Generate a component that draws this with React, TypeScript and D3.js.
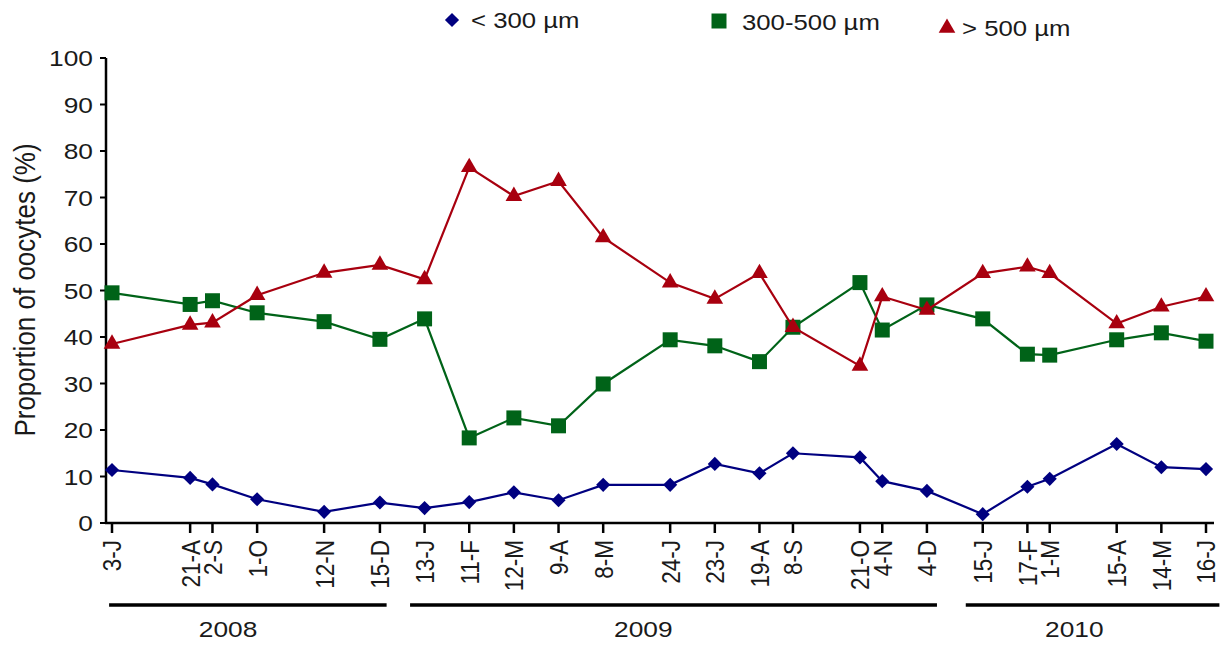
import React from 'react';
import * as d3 from 'd3';

// ==================== DATA ====================
// sampling dates (day-month initial) as printed on the axis
const dates = ['3-J', '21-A', '2-S', '1-O', '12-N', '15-D', '13-J', '11-F', '12-M', '9-A', '8-M', '24-J',
    '23-J', '19-A', '8-S', '21-O', '4-N', '4-D', '15-J', '17-F', '1-M', '15-A', '14-M', '16-J'];
// position of each sampling along the axis, in half-month steps
const datePos = [0, 3.5, 4.5, 6.5, 9.5, 12, 14, 16, 18, 20, 22, 25, 27, 29, 30.5, 33.5, 34.5, 36.5, 39, 41, 42, 45, 47, 49];

const small = [11.4, 9.7, 8.3, 5.1, 2.4, 4.4, 3.2, 4.5, 6.6, 4.9, 8.2, 8.2, 12.7, 10.7, 15.0, 14.1, 9.0, 6.9, 1.9, 7.8, 9.5, 17.0, 12.0, 11.6];
const medium = [49.5, 47.0, 47.8, 45.2, 43.3, 39.5, 43.9, 18.3, 22.6, 20.9, 29.9, 39.4, 38.1, 34.7, 42.1, 51.7, 41.5, 46.9, 43.9, 36.3, 36.1, 39.4, 40.9, 39.1];
const large = [38.5, 42.6, 43.1, 49.0, 53.8, 55.5, 52.4, 76.5, 70.3, 73.5, 61.4, 51.7, 48.2, 53.7, 42.1, 33.8, 48.7, 45.8, 53.7, 55.1, 53.7, 42.9, 46.5, 48.7];

const years = ['2008', '2009', '2010'];
const yearStart = [-0.13, 13.35, 38.24];
const yearEnd = [12.3, 36.95, 49.6];
const yearLabelAt = [5.2, 23.8, 43.1];

const yTicks = [0, 10, 20, 30, 40, 50, 60, 70, 80, 90, 100];

const SERIES = [
    { name: '< 300 µm', values: small, color: '#000080', symbol: 'diamond' },
    { name: '300-500 µm', values: medium, color: '#006318', symbol: 'square' },
    { name: '> 500 µm', values: large, color: '#A8000F', symbol: 'triangle' }
];

// ==================== LAYOUT ====================
const W = 1224, H = 645;
const FONT = "'Liberation Sans', Arial, sans-serif";
const TXT = '#1a1a1a';
const SX = 1.17; // the original lettering is set wider than Arial

const x = d3.scaleLinear().domain([0, 49]).range([112, 1206]);
const y = d3.scaleLinear().domain([0, 100]).range([523, 58]);

const symbolPath = (kind: string) => {
    if (kind === 'square') return d3.symbol(d3.symbolSquare, 225)() as string;
    if (kind === 'triangle') return d3.symbol(d3.symbolTriangle, 120)() as string;
    return d3.symbol(d3.symbolSquare, 100)() as string; // rotated 45deg below
};

const Marker = ({ kind, color, cx, cy }: { kind: string; color: string; cx: number; cy: number }) => (
    <path
        d={symbolPath(kind)}
        fill={color}
        transform={`translate(${cx},${cy})${kind === 'diamond' ? ' rotate(45)' : ''}`}
    />
);

// legend positions (marker centre, text start)
const legendItems = [
    { mx: 452, my: 20, tx: 471, ty: 28 },
    { mx: 719, my: 21, tx: 742, ty: 30 },
    { mx: 947, my: 28, tx: 962, ty: 36 }
];

export default function App() {
    const line = d3.line<number>()
        .x((_, i) => x(datePos[i]))
        .y(d => y(d));

    return (
        <div style={{ position: 'absolute', left: 0, top: 0, background: '#fff' }}>
            <svg width={W} height={H} viewBox={`0 0 ${W} ${H}`} style={{ display: 'block', fontFamily: FONT }}>
                <rect width={W} height={H} fill="#fff" />

                {/* y axis */}
                <line x1={106} x2={106} y1={y(100)} y2={y(0) + 1} stroke="#000" strokeWidth={2.5} />
                {yTicks.map(t => (
                    <g key={t}>
                        <line x1={100} x2={106} y1={y(t)} y2={y(t)} stroke="#000" strokeWidth={2} />
                        <text transform={`translate(93,${y(t)}) scale(${SX},1)`} dy="0.36em" textAnchor="end" fontSize={22.5} fill={TXT}>{t}</text>
                    </g>
                ))}
                <text
                    transform={`translate(35,290) scale(${SX},1) rotate(-90)`}
                    textAnchor="middle"
                    fontSize={26}
                    fill={TXT}
                >Proportion of oocytes (%)</text>

                {/* x axis */}
                <line x1={105} x2={1214} y1={y(0)} y2={y(0)} stroke="#000" strokeWidth={2.5} />
                {dates.map((d, i) => (
                    <g key={i} transform={`translate(${x(datePos[i])},0)`}>
                        <line y1={y(0)} y2={y(0) + 10} stroke="#000" strokeWidth={2.5} />
                        <text
                            transform={`translate(0,${y(0) + 17}) scale(${SX},1) rotate(-90)`}
                            dy="0.36em"
                            textAnchor="end"
                            fontSize={22.5}
                            fill={TXT}
                        >{d}</text>
                    </g>
                ))}

                {/* year bars */}
                {years.map((yr, i) => (
                    <g key={yr}>
                        <line x1={x(yearStart[i])} x2={x(yearEnd[i])} y1={605} y2={605} stroke="#000" strokeWidth={3.5} />
                        <text transform={`translate(${x(yearLabelAt[i])},637) scale(${SX},1)`} textAnchor="middle" fontSize={22.5} fill={TXT}>{yr}</text>
                    </g>
                ))}

                {/* series */}
                {SERIES.map(s => (
                    <g key={s.name}>
                        <path d={line(s.values) as string} fill="none" stroke={s.color} strokeWidth={2.2} />
                        {s.values.map((v, i) => (
                            <Marker key={i} kind={s.symbol} color={s.color} cx={x(datePos[i])} cy={y(v)} />
                        ))}
                    </g>
                ))}

                {/* legend */}
                {SERIES.map((s, i) => (
                    <g key={s.name}>
                        <Marker kind={s.symbol} color={s.color} cx={legendItems[i].mx} cy={legendItems[i].my} />
                        <text transform={`translate(${legendItems[i].tx},${legendItems[i].ty}) scale(${SX},1)`} fontSize={22} fill={TXT}>{s.name}</text>
                    </g>
                ))}
            </svg>
        </div>
    );
}
